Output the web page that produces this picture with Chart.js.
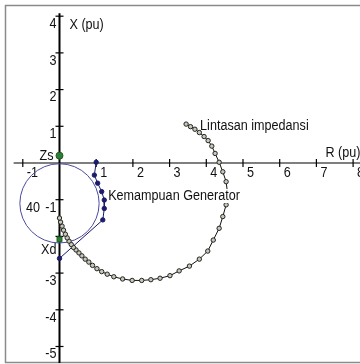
<!DOCTYPE html>
<html>
<head>
<meta charset="utf-8">
<script src="https://cdn.jsdelivr.net/npm/chart.js@4/dist/chart.umd.min.js"></script>
<style>
  html, body { margin: 0; padding: 0; background: #fff; }
  #wrap { width: 360px; height: 364px; }
</style>
</head>
<body>
<div id="wrap"><canvas id="c" width="360" height="364"></canvas></div>
<script>
// Impedance trajectory (R, X in pu)
const lintasanR = [3.45, 3.57, 3.69, 3.81, 3.94, 4.05, 4.15, 4.24, 4.35, 4.45, 4.54, 4.58, 4.54, 4.45, 4.35, 4.19, 4.04, 3.81, 3.54, 3.26, 3.01, 2.74, 2.49, 2.24, 1.98, 1.72, 1.48, 1.30, 1.15, 1.02, 0.90, 0.80, 0.70, 0.61, 0.53, 0.45, 0.38, 0.32, 0.26, 0.21, 0.16, 0.11, 0.07, 0.03, 0.00];
const lintasanX = [1.06, 0.99, 0.92, 0.83, 0.72, 0.61, 0.46, 0.26, 0.02, -0.24, -0.51, -0.83, -1.14, -1.46, -1.78, -2.10, -2.40, -2.62, -2.81, -2.94, -3.07, -3.14, -3.18, -3.20, -3.20, -3.16, -3.10, -3.03, -2.96, -2.88, -2.79, -2.70, -2.62, -2.53, -2.45, -2.37, -2.30, -2.22, -2.13, -2.04, -1.94, -1.83, -1.72, -1.61, -1.50];

// Generator capability boundary
const kemampuanR = [1.00, 0.95, 1.04, 1.15, 1.22, 1.22, 1.18, 0.00];
const kemampuanX = [0.02, -0.33, -0.55, -0.78, -1.01, -1.24, -1.55, -2.60];

// Source and synchronous reactance points
const zsPoint = [0, 0.2];
const xdPoint = [0, -2.08];

// Relay circle: centre (R, X) and radius in pu
const circleCentre = [0, -1.1];
const circleRadius = 1.08;

// Axis ticks
const xTickValues = [-1, 1, 2, 3, 4, 5, 6, 7, 8];
const xTickLabels = ['-1', '1', '2', '3', '4', '5', '6', '7', '8'];
const yTickValues = [4, 3, 2, 1, -1, -2, -3, -4, -5];
const yTickLabels = ['4', '3', '2', '1', '-1', '', '-3', '-4', '-5'];

const toPts = (xs, ys) => xs.map((v, i) => ({ x: v, y: ys[i] }));

const FONT = '14px "Liberation Sans", Arial, sans-serif';
const SX = 0.9;

function txt(ctx, s, x, y, align, bg) {
  ctx.save();
  ctx.font = FONT;
  ctx.textBaseline = 'middle';
  const w = ctx.measureText(s).width * SX;
  let left = x;
  if (align === 'right') left = x - w;
  else if (align === 'center') left = x - w / 2;
  if (bg) {
    ctx.fillStyle = '#fff';
    ctx.fillRect(left - 1, y - 7, w + 2, 14);
  }
  ctx.translate(left, y);
  ctx.scale(SX, 1);
  ctx.fillStyle = '#111';
  ctx.textAlign = 'left';
  ctx.fillText(s, 0, 0);
  ctx.restore();
}

const axesPlugin = {
  id: 'axesPlugin',
  beforeDatasetsDraw(chart) {
    const ctx = chart.ctx;
    const xs = chart.scales.x, ys = chart.scales.y;
    const px = v => xs.getPixelForValue(v);
    const py = v => ys.getPixelForValue(v);
    ctx.save();
    // frame
    ctx.strokeStyle = '#8a8a8a';
    ctx.lineWidth = 1.5;
    ctx.strokeRect(5.5, 5.5, 360, 357);

    // x axis
    ctx.strokeStyle = '#000';
    ctx.lineWidth = 1.2;
    ctx.beginPath();
    ctx.moveTo(px(-1.25), py(0));
    ctx.lineTo(px(8.3), py(0));
    ctx.stroke();
    // y axis
    ctx.lineWidth = 2;
    ctx.beginPath();
    ctx.moveTo(px(0), py(4.08));
    ctx.lineTo(px(0), py(-5.45));
    ctx.stroke();

    // ticks
    ctx.lineWidth = 1.2;
    xTickValues.forEach(v => {
      ctx.beginPath();
      ctx.moveTo(px(v), py(0) - 4);
      ctx.lineTo(px(v), py(0) + 4);
      ctx.stroke();
    });
    yTickValues.forEach(v => {
      ctx.beginPath();
      ctx.moveTo(px(0) - 4, py(v));
      ctx.lineTo(px(0) + 4, py(v));
      ctx.stroke();
    });

    // tick labels
    xTickValues.forEach((v, i) => txt(ctx, xTickLabels[i], px(v) + 4, py(0) + 10, 'left'));
    yTickValues.forEach((v, i) => { if (yTickLabels[i]) txt(ctx, yTickLabels[i], px(0) - 3, py(v) + 8, 'right'); });

    // relay circle
    const cx = px(circleCentre[0]), cy = py(circleCentre[1]);
    const rr = Math.abs(px(circleCentre[0] + circleRadius) - cx);
    ctx.strokeStyle = '#4a4a9e';
    ctx.lineWidth = 1;
    ctx.beginPath();
    ctx.arc(cx, cy, rr, 0, Math.PI * 2);
    ctx.stroke();
    ctx.restore();
  },
  afterDatasetsDraw(chart) {
    const ctx = chart.ctx;
    const xs = chart.scales.x, ys = chart.scales.y;
    const px = v => xs.getPixelForValue(v);
    const py = v => ys.getPixelForValue(v);
    txt(ctx, 'X (pu)', px(0) + 10, py(4) + 9, 'left');
    txt(ctx, 'R (pu)', px(8.2), py(0) - 10, 'right');
    txt(ctx, 'Lintasan impedansi', px(lintasanR[0]) + 14, py(lintasanX[0]) + 2, 'left');
    txt(ctx, 'Kemampuan Generator', px(kemampuanR[0]) + 12, py(-0.9), 'left', true);
    txt(ctx, 'Zs', px(zsPoint[0]) - 6, py(zsPoint[1]), 'right');
    txt(ctx, 'Xd', px(xdPoint[0]) - 3, py(xdPoint[1]) + 11, 'right');
    txt(ctx, '40', px(-0.53), py(-1.23), 'right');
  }
};

new Chart(document.getElementById('c'), {
  type: 'scatter',
  data: {
    datasets: [
      {
        label: 'Lintasan impedansi',
        data: toPts(lintasanR, lintasanX),
        showLine: true,
        borderColor: '#111',
        borderWidth: 1,
        pointRadius: 2.2,
        pointBackgroundColor: '#c8c8b8',
        pointBorderColor: '#222',
        pointBorderWidth: 1
      },
      {
        label: 'Kemampuan Generator',
        data: toPts(kemampuanR, kemampuanX),
        showLine: true,
        borderColor: '#1c1c6a',
        borderWidth: 1,
        pointRadius: 2.2,
        pointBackgroundColor: '#1c1c6a',
        pointBorderColor: '#1c1c6a'
      },
      {
        label: 'Zs',
        data: [{ x: zsPoint[0], y: zsPoint[1] }],
        pointRadius: 3.5,
        pointBackgroundColor: '#2e7d32',
        pointBorderColor: '#1b5e20'
      },
      {
        label: 'Xd',
        data: [{ x: xdPoint[0], y: xdPoint[1] }],
        pointStyle: 'rect',
        pointRadius: 3.5,
        pointBackgroundColor: '#2e7d32',
        pointBorderColor: '#1b5e20'
      }
    ]
  },
  options: {
    responsive: false,
    animation: false,
    devicePixelRatio: 1,
    layout: { padding: 0, autoPadding: false },
    plugins: { legend: { display: false }, tooltip: { enabled: false } },
    scales: {
      x: { type: 'linear', min: -1.621, max: 8.188, display: false },
      y: { type: 'linear', min: -5.477, max: 4.441, display: false }
    }
  },
  plugins: [axesPlugin]
});
</script>
</body>
</html>
